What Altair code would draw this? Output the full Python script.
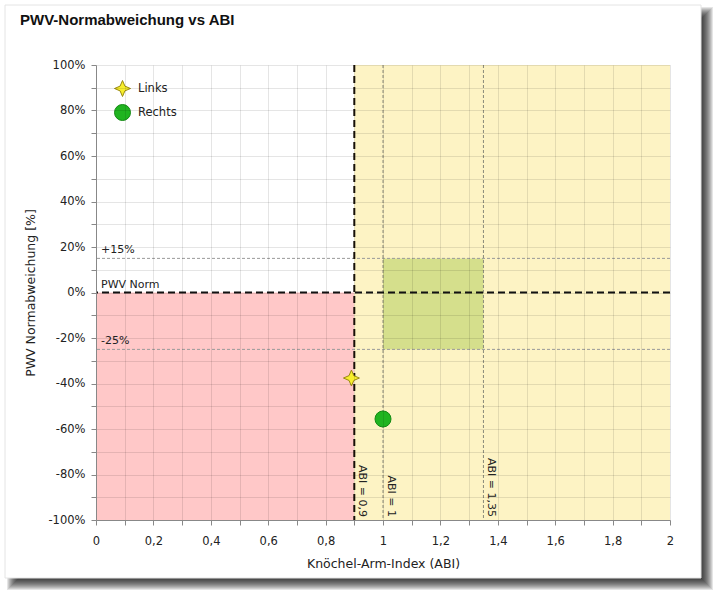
import altair as alt
import pandas as pd

# ---------------- data ----------------
title_text = "PWV-Normabweichung vs ABI"
x_title = "Knöchel-Arm-Index (ABI)"
y_title = "PWV Normabweichung [%]"

series = ["Links", "Rechts"]
abi = [0.89, 1.0]
pwv_dev = [-37.6, -55.6]

zone_x1 = [0.0, 0.9, 1.0]
zone_x2 = [0.9, 2.0, 1.35]
zone_y1 = [-100, -100, -25]
zone_y2 = [0, 100, 15]
zone_colors = ["#ffc8c8", "#fdf3c4", "#d5df8c"]

thin_h_lines = [15, -25]
thin_v_lines = [1.0, 1.35]
norm_h = [0]
norm_v = [0.9]

h_labels = ["+15%", "PWV Norm", "-25%"]
h_label_x = [0, 0, 0]
h_label_y = [15, 0, -25]

v_labels = ["ABI = 0,9", "ABI = 1", "ABI = 1,35"]
v_label_x = [0.9, 1.0, 1.35]
v_label_y = [-100, -100, -100]

x_ticks = [i / 10 for i in range(21)]
y_ticks = list(range(-100, 101, 10))

# ---------------- style ----------------
FONT = "DejaVu Sans"
W, H = 574, 455
PAD_L, PAD_T = 96, 65
STAR = "M0,-1 L0.3,-0.3 L1,0 L0.3,0.3 L0,1 L-0.3,0.3 L-1,0 L-0.3,-0.3 Z"

points_df = pd.DataFrame({"side": series, "abi": abi, "dev": pwv_dev})
zones_df = pd.DataFrame({"x1": zone_x1, "x2": zone_x2, "y1": zone_y1, "y2": zone_y2, "c": zone_colors})
hl_df = pd.DataFrame({"y": thin_h_lines})
vl_df = pd.DataFrame({"x": thin_v_lines})
nh_df = pd.DataFrame({"y": norm_h})
nv_df = pd.DataFrame({"x": norm_v})
htxt_df = pd.DataFrame({"x": h_label_x, "y": h_label_y, "t": h_labels})
vtxt_df = pd.DataFrame({"x": v_label_x, "y": v_label_y, "t": v_labels})
title_df = pd.DataFrame({"t": [title_text]})
one = pd.DataFrame({"d": [0]})

xscale = alt.Scale(domain=[0, 2], nice=False, zero=False)
yscale = alt.Scale(domain=[-100, 100], nice=False, zero=False)

xaxis = alt.Axis(
    values=x_ticks,
    labelExpr="round(datum.value*10) % 2 == 0 ? replace(toString(round(datum.value*10)/10), '.', ',') : ''",
    grid=True, gridColor="#000000", gridOpacity=0.1,
    tickColor="#888888", domainColor="#888888", tickSize=5,
    labelFont=FONT, labelFontSize=11.5, labelColor="#222222", labelPadding=10,
    labelFlush=False, labelOverlap=False,
    titleFont=FONT, titleFontSize=12.5, titleFontWeight="normal", titleColor="#222222",
    titlePadding=11, zindex=1,
)
yaxis = alt.Axis(
    values=y_ticks,
    labelExpr="datum.value % 20 == 0 ? datum.value + '%' : ''",
    grid=True, gridColor="#000000", gridOpacity=0.1,
    tickColor="#888888", domainColor="#888888", tickSize=5,
    labelFont=FONT, labelFontSize=11.5, labelColor="#222222", labelPadding=6,
    labelFlush=False, labelOverlap=False,
    titleFont=FONT, titleFontSize=12.5, titleFontWeight="normal", titleColor="#222222",
    titlePadding=10, zindex=1,
)


def X(field):
    return alt.X(field, scale=xscale, axis=xaxis, title=x_title)


def Y(field):
    return alt.Y(field, scale=yscale, axis=yaxis, title=y_title)


# ---------------- frame with drop shadow (decoration) ----------------
FX1, FY1, FX2, FY2 = 5, 5, 701, 578
deco = []
for w in range(1, 13):
    deco.append(
        alt.Chart(one).mark_rect(color="#000000", opacity=0.1).encode(
            x=alt.value(FX2 - PAD_L), x2=alt.value(FX2 + w - PAD_L),
            y=alt.value(FY1 + 14 - w - PAD_T), y2=alt.value(FY2 + w - PAD_T),
        )
    )
    deco.append(
        alt.Chart(one).mark_rect(color="#000000", opacity=0.1).encode(
            x=alt.value(FX1 + 14 - w - PAD_L), x2=alt.value(FX2 - PAD_L),
            y=alt.value(FY2 - PAD_T), y2=alt.value(FY2 + w - PAD_T),
        )
    )
deco.append(
    alt.Chart(one).mark_rect(fillOpacity=0, stroke="#e4e4e4", strokeWidth=1).encode(
        x=alt.value(FX1 - PAD_L), x2=alt.value(FX2 - PAD_L),
        y=alt.value(FY1 - PAD_T), y2=alt.value(FY2 - PAD_T),
    )
)
title_layer = alt.Chart(title_df).mark_text(
    align="left", baseline="middle", font="Liberation Sans", fontSize=15,
    fontWeight="bold", color="#111111",
).encode(x=alt.value(20 - PAD_L), y=alt.value(20 - PAD_T), text="t:N")

# ---------------- data layers ----------------
zones = alt.Chart(zones_df).mark_rect().encode(
    x=X("x1:Q"), x2="x2:Q",
    y=Y("y1:Q"), y2="y2:Q",
    color=alt.Color("c:N", scale=None),
)

thin_h = alt.Chart(hl_df).mark_rule(color="#999999", strokeWidth=1, strokeDash=[3, 2]).encode(
    y=Y("y:Q")
)
thin_v = alt.Chart(vl_df).mark_rule(color="#8a8a7a", strokeWidth=1, strokeDash=[3, 2]).encode(
    x=X("x:Q")
)
norm_hl = alt.Chart(nh_df).mark_rule(color="#111111", strokeWidth=2, strokeDash=[7, 4]).encode(
    y=Y("y:Q")
)
norm_vl = alt.Chart(nv_df).mark_rule(color="#1a1208", strokeWidth=2, strokeDash=[7, 4]).encode(
    x=X("x:Q")
)

htxt = alt.Chart(htxt_df).mark_text(
    align="left", baseline="bottom", dx=5, dy=-3, font=FONT, fontSize=11, color="#222222"
).encode(x=X("x:Q"), y=Y("y:Q"), text="t:N")

vtxt = alt.Chart(vtxt_df).mark_text(
    align="right", baseline="bottom", angle=90, dx=-3, dy=-3, font=FONT, fontSize=11, color="#222222"
).encode(x=X("x:Q"), y=Y("y:Q"), text="t:N")

leg = alt.Legend(
    title=None, orient="none", legendX=18, legendY=15, padding=0,
    labelFont=FONT, labelFontSize=11.5, labelColor="#222222",
    symbolSize=256, symbolStrokeWidth=1, rowPadding=3, labelOffset=7,
)
pts = alt.Chart(points_df).mark_point(filled=True, opacity=1, size=256, strokeWidth=1).encode(
    x=X("abi:Q"), y=Y("dev:Q"),
    fill=alt.Fill("side:N", scale=alt.Scale(domain=series, range=["#f7ee2c", "#20b420"]), legend=leg),
    stroke=alt.Stroke("side:N", scale=alt.Scale(domain=series, range=["#9a8a10", "#148a14"]), legend=leg),
    shape=alt.Shape("side:N", scale=alt.Scale(domain=series, range=[STAR, "circle"]), legend=leg),
)

layers = [zones] + deco + [title_layer, thin_h, thin_v, norm_hl, norm_vl, htxt, vtxt, pts]

chart = alt.layer(*layers).properties(
    width=W, height=H,
    autosize=alt.AutoSizeParams(type="none"),
    padding={"left": PAD_L, "top": PAD_T, "right": 724 - PAD_L - W, "bottom": 602 - PAD_T - H},
    background="#ffffff",
).configure_view(stroke=None)

chart.save("out.html", embed_options={"renderer": "svg", "actions": False})
